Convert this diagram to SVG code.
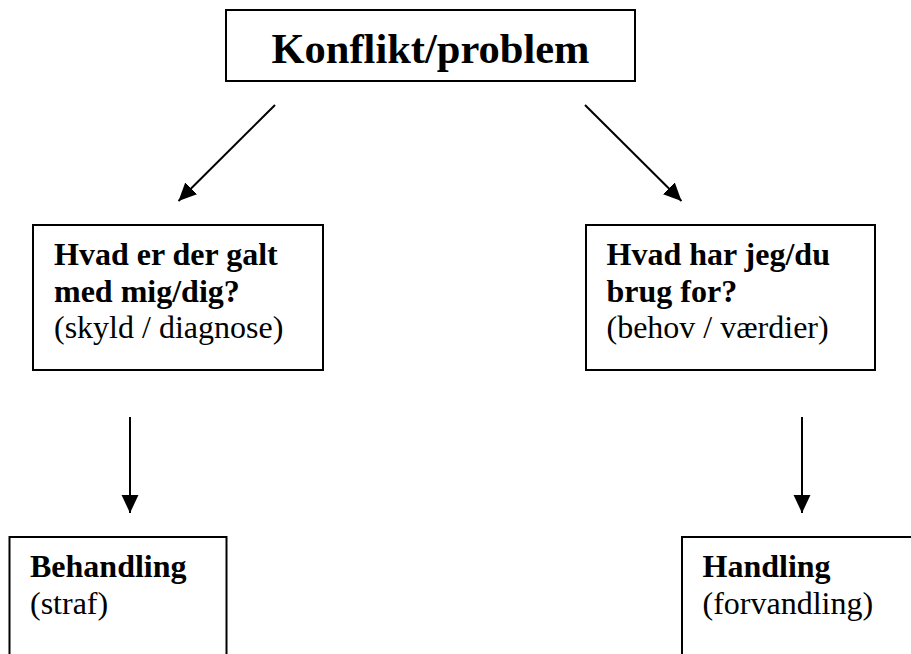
<svg xmlns="http://www.w3.org/2000/svg" width="911" height="654" viewBox="0 0 911 654">
<style>
.box{fill:#fff;stroke:#000;stroke-width:2}
.t{font-family:"Liberation Serif","Times New Roman",serif;fill:#000;font-size:32px}
.b{font-weight:bold}
.title{font-family:"Liberation Serif","Times New Roman",serif;font-weight:bold;font-size:42.5px;fill:#000}
.c{stroke:#000;stroke-width:2;fill:none}
</style>
<defs>
<marker id="ah" markerUnits="userSpaceOnUse" markerWidth="18" markerHeight="18" viewBox="0 0 16 16" refX="16" refY="8" orient="auto">
<path d="M0,0.5 L16,8 L0,15.5 Z" fill="#000"/>
</marker>
</defs>
<rect width="911" height="654" fill="#fff"/>
<g id="connectors">
<line class="c" x1="275" y1="105" x2="178.5" y2="201" marker-end="url(#ah)"/>
<line class="c" x1="585" y1="105" x2="681.5" y2="201" marker-end="url(#ah)"/>
<line class="c" x1="130" y1="417" x2="130" y2="513" marker-end="url(#ah)"/>
<line class="c" x1="802" y1="417" x2="802" y2="513" marker-end="url(#ah)"/>
</g>
<g id="konflikt">
<rect class="box" x="226" y="10" width="409" height="71"/>
<text class="title" x="430.5" y="63" text-anchor="middle">Konflikt/problem</text>
</g>
<g id="hvad-galt">
<rect class="box" x="33" y="225" width="290" height="145"/>
<text class="t b" x="54" y="265">Hvad er der galt</text>
<text class="t b" x="54" y="301.5">med mig/dig?</text>
<text class="t" x="54" y="338">(skyld / diagnose)</text>
</g>
<g id="hvad-brug">
<rect class="box" x="586" y="225" width="289" height="145"/>
<text class="t b" x="606.5" y="265">Hvad har jeg/du</text>
<text class="t b" x="606.5" y="301.5">brug for?</text>
<text class="t" x="606.5" y="338">(behov / værdier)</text>
</g>
<g id="behandling">
<rect class="box" x="9.5" y="537" width="217" height="130"/>
<text class="t b" x="30" y="577">Behandling</text>
<text class="t" x="30" y="613.5">(straf)</text>
</g>
<g id="handling">
<rect class="box" x="682" y="537" width="240" height="130"/>
<text class="t b" x="702.5" y="577">Handling</text>
<text class="t" x="702.5" y="613.5">(forvandling)</text>
</g>
</svg>
